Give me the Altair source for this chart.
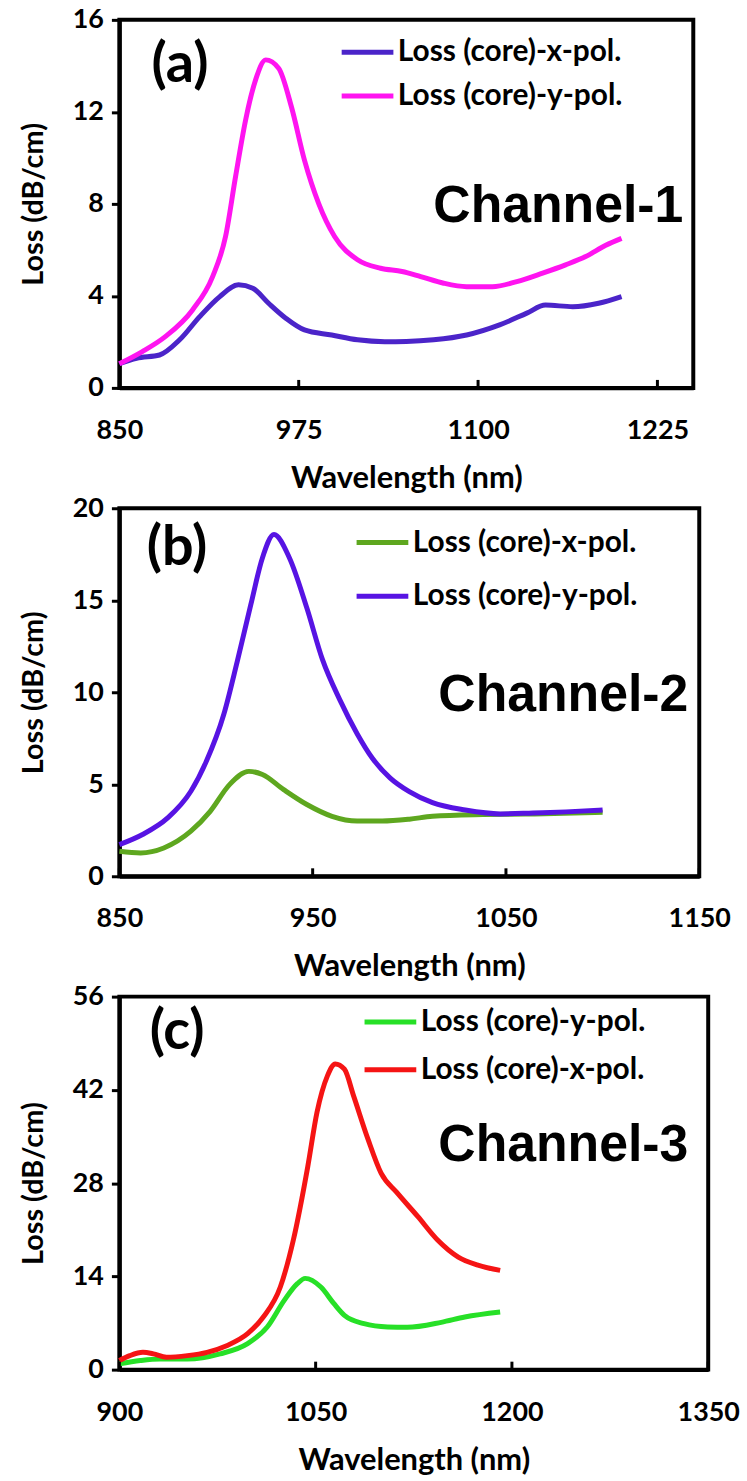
import altair as alt
import pandas as pd

FONT = "Lato"

# ---------------- Panel (a): Channel-1 ----------------
a_x_wl = [850, 862, 878, 892, 906, 920, 933, 943, 954, 966, 979, 998, 1016, 1035,
          1050, 1069, 1092, 1115, 1134, 1147, 1166, 1184, 1200]
a_x_loss = [1.05, 1.29, 1.43, 2.09, 3.1, 3.97, 4.48, 4.33, 3.68, 3.03, 2.52, 2.3, 2.09,
            2.01, 2.02, 2.09, 2.3, 2.74, 3.25, 3.6, 3.53, 3.68, 3.97]
a_y_wl = [850, 866, 882, 901, 915, 924, 931, 938, 945, 952, 961, 970, 979, 989, 1000,
          1016, 1032, 1047, 1060, 1076, 1092, 1110, 1127, 1145, 1161, 1175, 1189, 1200]
a_y_loss = [1.05, 1.58, 2.23, 3.39, 4.84, 6.58, 9.19, 11.65, 13.4, 14.26, 13.9, 12.2,
            9.9, 8.0, 6.58, 5.57, 5.2, 5.06, 4.84, 4.55, 4.4, 4.4, 4.62, 4.99, 5.35,
            5.71, 6.2, 6.5]
a_xticks = [850, 975, 1100, 1225]
a_yticks = [0, 4, 8, 12, 16]

# ---------------- Panel (b): Channel-2 ----------------
b_x_wl = [850, 861, 873, 887, 897, 907, 917, 924, 935, 947, 960, 973, 986, 1000, 1012,
          1038, 1060, 1080, 1100]
b_x_loss = [1.36, 1.27, 1.54, 2.45, 3.53, 4.98, 5.7, 5.53, 4.71, 3.9, 3.26, 3.0, 3.0,
            3.1, 3.26, 3.35, 3.38, 3.42, 3.48]
b_y_wl = [850, 862, 875, 887, 895, 904, 911, 918, 924, 930, 938, 947, 955, 964, 973,
          981, 990, 1000, 1012, 1029, 1047, 1064, 1081, 1100]
b_y_loss = [1.72, 2.27, 3.17, 4.62, 6.25, 8.79, 11.68, 14.76, 17.3, 18.57, 17.3, 14.58,
            11.8, 9.6, 7.75, 6.4, 5.35, 4.6, 4.0, 3.6, 3.39, 3.44, 3.5, 3.6]
b_xticks = [850, 950, 1050, 1150]
b_yticks = [0, 5, 10, 15, 20]

# ---------------- Panel (c): Channel-3 ----------------
c_x_wl = [900, 908, 918, 926, 936, 952, 967, 982, 998, 1010, 1023, 1033, 1044, 1051,
          1059, 1065, 1072, 1079, 1090, 1100, 1112, 1128, 1143, 1159, 1174, 1191]
c_x_loss = [1.36, 2.1, 2.6, 2.37, 1.86, 2.1, 2.6, 3.6, 5.4, 7.9, 12.4, 19.5, 30.5, 38.6,
            44.1, 45.9, 45.1, 41.1, 34.6, 29.5, 26.6, 23.0, 19.5, 16.9, 15.7, 14.9]
c_y_wl = [900, 916, 931, 952, 977, 998, 1013, 1026, 1036, 1042, 1054, 1064, 1072, 1087,
          1105, 1120, 1146, 1164, 1191]
c_y_loss = [0.86, 1.36, 1.6, 1.6, 2.37, 3.9, 6.4, 10.4, 12.9, 13.7, 12.4, 9.9, 8.15, 6.9,
            6.4, 6.35, 7.1, 7.9, 8.65]
c_xticks = [900, 1050, 1200, 1350]
c_yticks = [0, 14, 28, 42, 56]

XPOL = "Loss (core)-x-pol."
YPOL = "Loss (core)-y-pol."


def make_panel(series, colors, xdom, xticks, ydom, yticks, width, height,
               tag, tag_xy, channel, channel_xy, legend_xy, row_pad):
    frames = [pd.DataFrame({"wl": wl, "loss": loss, "series": name})
              for name, wl, loss in series]
    df = pd.concat(frames, ignore_index=True)
    names = [s[0] for s in series]

    x = alt.X("wl:Q", scale=alt.Scale(domain=xdom, nice=False, zero=False),
              axis=alt.Axis(values=xticks, title="Wavelength (nm)", ticks=False,
                            tickSize=0, labelPadding=30, titlePadding=20, grid=False,
                            format="d", labelFlush=False, titleFontSize=31))
    y = alt.Y("loss:Q", scale=alt.Scale(domain=ydom, nice=False, zero=True),
              axis=alt.Axis(values=yticks, title="Loss (dB/cm)", tickSize=8,
                            tickWidth=3, labelPadding=8, titlePadding=24, grid=False,
                            format="d", labelFlush=False, titleFontSize=29))

    lines = alt.Chart(df).mark_line(strokeWidth=5, interpolate="monotone").encode(
        x=x, y=y,
        color=alt.Color("series:N", scale=alt.Scale(domain=names, range=colors),
                        legend=alt.Legend(title=None, orient="none",
                                          legendX=legend_xy[0], legendY=legend_xy[1],
                                          symbolType="stroke", symbolSize=2704,
                                          symbolStrokeWidth=5, labelFont=FONT,
                                          labelFontSize=30, labelFontWeight="bold",
                                          labelColor="black",
                                          labelLimit=500, rowPadding=row_pad,
                                          labelOffset=2, padding=0)),
    )
    tick_df = pd.DataFrame({"wl": xticks})
    ticks = alt.Chart(tick_df).mark_rule(color="black", strokeWidth=3).encode(
        x=x, y=alt.value(height), y2=alt.value(height - 8))

    tag_mark = alt.Chart(pd.DataFrame({"t": [tag]})).mark_text(
        font=FONT, fontSize=56, fontWeight="bold", align="center",
        baseline="middle", color="black").encode(
        x=alt.value(tag_xy[0]), y=alt.value(tag_xy[1]), text="t:N")
    chan_mark = alt.Chart(pd.DataFrame({"t": [channel]})).mark_text(
        font="Liberation Sans", fontSize=52, fontWeight="bold", align="right",
        baseline="alphabetic", color="black").encode(
        x=alt.value(channel_xy[0]), y=alt.value(channel_xy[1]), text="t:N")

    return alt.layer(lines, ticks, tag_mark, chan_mark).properties(
        width=width, height=height)


pa = make_panel([(XPOL, a_x_wl, a_x_loss), (YPOL, a_y_wl, a_y_loss)],
                ["#4B24C9", "#FF14F0"], [850, 1250], a_xticks, [0, 16], a_yticks,
                577, 370, "(a)", (61, 45), "Channel-1", (567, 203), (221, 4), -2)
pb = make_panel([(XPOL, b_x_wl, b_x_loss), (YPOL, b_y_wl, b_y_loss)],
                ["#5EA71F", "#5713E3"], [850, 1150], b_xticks, [0, 20], b_yticks,
                583, 370, "(b)", (58, 40), "Channel-2", (572, 204), (236, 6), 10)
pc = make_panel([(YPOL, c_y_wl, c_y_loss), (XPOL, c_x_wl, c_x_loss)],
                ["#27E027", "#F51414"], [900, 1350], c_xticks, [0, 56], c_yticks,
                592, 375, "(c)", (58, 36), "Channel-3", (572, 165), (244, -3), 4)

chart = alt.vconcat(pa, pb, pc, spacing=121, bounds="flush").resolve_scale(
    color="independent").resolve_legend(color="independent").configure_view(
    stroke="black", strokeWidth=4).configure_axis(
    domainColor="black", domainWidth=4, tickColor="black",
    labelFont=FONT, labelFontSize=27, labelFontWeight="bold", labelColor="black",
    titleFont=FONT, titleFontWeight="bold", titleColor="black"
).properties(padding={"left": 17, "top": 0, "right": 5, "bottom": 0},
             background="white")

chart.save("out.html", embed_options={"renderer": "svg", "actions": False})
